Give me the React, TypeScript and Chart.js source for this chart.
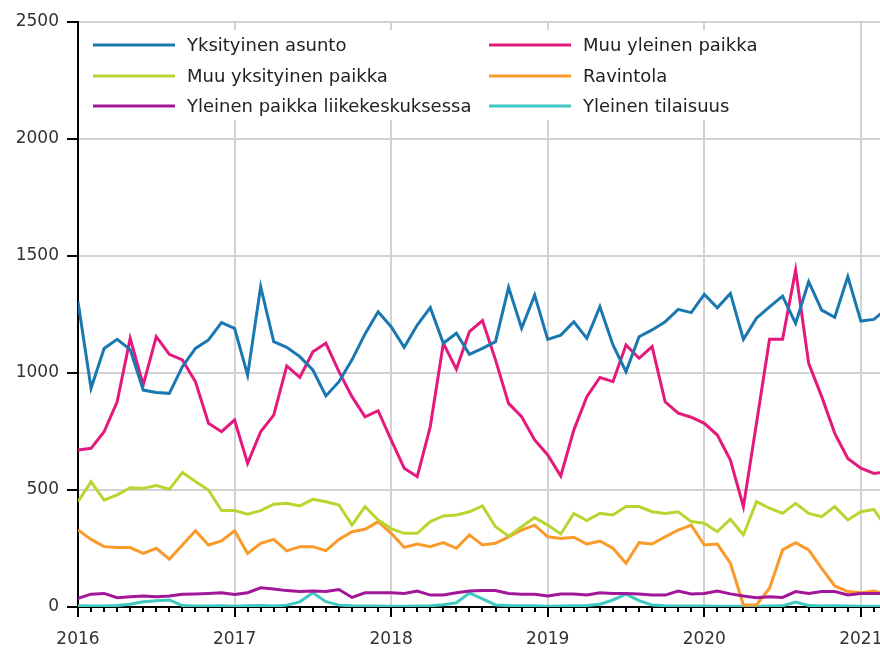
import React, { useEffect, useRef } from 'react';
import { Chart, registerables } from 'chart.js';

Chart.register(...registerables);

// Monthly data, January 2016 onwards (index 0 = 2016-01)
const startYear = 2016;
const yearTickLabels = ['2016', '2017', '2018', '2019', '2020', '2021'];

const yksityinenAsunto = [1305, 935, 1105, 1144, 1100, 927, 917, 913, 1027, 1105, 1141, 1215, 1191, 991, 1369, 1134, 1110, 1070, 1013, 902, 963, 1056, 1167, 1262, 1198, 1110, 1205, 1279, 1127, 1170, 1080, 1105, 1134, 1366, 1191, 1333, 1144, 1162, 1219, 1148, 1283, 1120, 1006, 1155, 1184, 1219, 1272, 1258, 1336, 1279, 1340, 1144, 1234, 1283, 1329, 1212, 1390, 1269, 1238, 1412, 1222, 1229, 1275];
const muuYksityinenPaikka = [450, 536, 457, 479, 510, 507, 519, 503, 575, 536, 500, 412, 412, 397, 412, 439, 443, 432, 460, 450, 436, 350, 429, 372, 335, 315, 315, 365, 389, 393, 407, 432, 343, 303, 343, 382, 350, 312, 400, 369, 400, 393, 429, 429, 407, 400, 407, 365, 358, 322, 375, 308, 450, 422, 400, 443, 400, 386, 429, 372, 407, 417, 335];
const liikekeskus = [37, 55, 58, 40, 44, 47, 44, 47, 54, 56, 58, 61, 54, 61, 82, 77, 70, 66, 68, 66, 75, 41, 61, 61, 61, 58, 68, 51, 51, 61, 68, 70, 70, 58, 54, 54, 47, 56, 56, 51, 61, 58, 58, 56, 51, 51, 68, 56, 58, 68, 56, 47, 40, 44, 41, 66, 58, 66, 66, 51, 58, 58, 58];
const muuYleinenPaikka = [671, 678, 749, 877, 1148, 949, 1155, 1080, 1056, 963, 785, 749, 799, 614, 749, 820, 1030, 981, 1091, 1127, 1006, 899, 813, 839, 714, 593, 557, 771, 1127, 1016, 1177, 1224, 1056, 870, 813, 714, 650, 560, 756, 899, 981, 963, 1120, 1063, 1113, 877, 828, 811, 785, 735, 628, 429, 785, 1144, 1144, 1440, 1041, 899, 742, 635, 593, 571, 578];
const ravintola = [329, 289, 258, 254, 254, 229, 251, 204, 265, 326, 265, 282, 326, 229, 272, 289, 240, 258, 258, 241, 289, 322, 332, 365, 315, 255, 269, 258, 275, 251, 308, 265, 272, 300, 329, 350, 300, 293, 298, 269, 282, 251, 187, 275, 269, 300, 329, 350, 265, 269, 187, 9, 9, 80, 244, 275, 244, 165, 90, 66, 61, 68, 55];
const yleinenTilaisuus = [5, 4, 4, 6, 12, 22, 27, 30, 6, 4, 4, 5, 3, 5, 6, 4, 8, 22, 61, 23, 8, 5, 4, 4, 3, 3, 4, 5, 10, 18, 60, 35, 9, 6, 5, 5, 3, 4, 5, 6, 12, 30, 55, 27, 9, 5, 4, 4, 4, 3, 3, 3, 3, 4, 5, 21, 6, 4, 5, 4, 3, 3, 3];

const seriesNames = [
  'Yksityinen asunto',
  'Muu yksityinen paikka',
  'Yleinen paikka liikekeskuksessa',
  'Muu yleinen paikka',
  'Ravintola',
  'Yleinen tilaisuus',
];
const seriesValues = [yksityinenAsunto, muuYksityinenPaikka, liikekeskus, muuYleinenPaikka, ravintola, yleinenTilaisuus];
const seriesColors = ['#1a78b0', '#b7d630', '#a2169a', '#e5197d', '#f99a2a', '#40c8c2'];

const FONT = "'DejaVu Sans', sans-serif";

const legendPlugin = {
  id: 'boxLegend',
  afterDraw(chart: any) {
    const { ctx, chartArea } = chart;
    const left = chartArea.left;
    const top = chartArea.top;
    ctx.save();
    // minor monthly ticks
    const xs = chart.scales.x;
    ctx.strokeStyle = '#000';
    ctx.lineWidth = 2;
    for (let m = 1; m <= 62; m++) {
      if (m % 12 === 0) continue;
      const px = Math.round(xs.getPixelForValue(m));
      ctx.beginPath();
      ctx.moveTo(px, chartArea.bottom);
      ctx.lineTo(px, chartArea.bottom + 5);
      ctx.stroke();
    }
    // legend box
    ctx.fillStyle = '#fff';
    ctx.fillRect(left + 2, top + 8, 775, 90);
    const cols = [left + 15, left + 411];
    const rows = [top + 23, top + 54, top + 84];
    ctx.font = `18px ${FONT}`;
    ctx.textBaseline = 'middle';
    ctx.textAlign = 'left';
    seriesNames.forEach((name, i) => {
      const c = i < 3 ? 0 : 1;
      const r = i % 3;
      const x = cols[c];
      const y = rows[r];
      ctx.strokeStyle = seriesColors[i];
      ctx.lineWidth = 3;
      ctx.beginPath();
      ctx.moveTo(x, y);
      ctx.lineTo(x + 82, y);
      ctx.stroke();
      ctx.fillStyle = '#222';
      ctx.fillText(name, x + 94, y + 1);
    });
    ctx.restore();
  },
};

export default function App() {
  const ref = useRef<HTMLCanvasElement | null>(null);

  useEffect(() => {
    if (!ref.current) return;
    const chart = new Chart(ref.current, {
      type: 'line',
      data: {
        datasets: seriesNames.map((name, i) => ({
          label: name,
          data: seriesValues[i].map((v, m) => ({ x: m, y: v })),
          borderColor: seriesColors[i],
          backgroundColor: seriesColors[i],
          borderWidth: 3,
          pointRadius: 0,
          tension: 0,
          fill: false,
        })),
      },
      options: {
        animation: false,
        responsive: false,
        maintainAspectRatio: false,
        layout: { padding: { top: 22, left: 0, right: 0, bottom: 0 } },
        plugins: { legend: { display: false }, tooltip: { enabled: false } },
        scales: {
          x: {
            type: 'linear',
            min: 0,
            max: 63,
            afterBuildTicks: (s: any) => {
              s.ticks = yearTickLabels.map((_, k) => ({ value: k * 12 }));
            },
            ticks: {
              includeBounds: false,
              autoSkip: false,
              maxRotation: 0,
              padding: 12,
              color: '#333',
              font: { family: FONT, size: 17 },
              callback: (v: any) => String(startYear + Math.round(Number(v) / 12)),
            },
            grid: { color: '#d2d2d2', lineWidth: 2, tickLength: 10, tickColor: '#000', tickWidth: 2 },
            border: { color: '#000', width: 2 },
            afterFit: (s: any) => { s.height = 41; },
          },
          y: {
            min: 0,
            max: 2500,
            ticks: {
              stepSize: 500,
              padding: 8,
              color: '#333',
              font: { family: FONT, size: 17 },
              callback: (v: any) => String(v),
            },
            grid: { color: '#d2d2d2', lineWidth: 2, tickLength: 11, tickColor: '#000', tickWidth: 2 },
            border: { color: '#000', width: 2 },
            afterFit: (s: any) => { s.width = 78; },
          },
        },
      },
      plugins: [legendPlugin],
    } as any);
    return () => chart.destroy();
  }, []);

  return (
    <div style={{ position: 'fixed', left: 0, top: 0, width: 880, height: 648, overflow: 'hidden', background: '#fff' }}>
      <canvas ref={ref} width={900} height={648} style={{ width: 900, height: 648, display: 'block' }} />
    </div>
  );
}
